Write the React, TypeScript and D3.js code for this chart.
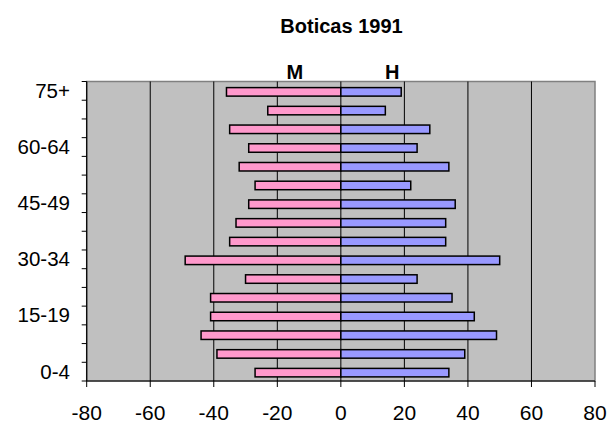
import React from 'react';
import * as d3 from 'd3';

const ageGroups = ['0-4', '5-9', '10-14', '15-19', '20-24', '25-29', '30-34', '35-39', '40-44', '45-49', '50-54', '55-59', '60-64', '65-69', '70-74', '75+'];
const mulheres = [27, 39, 44, 41, 41, 30, 49, 35, 33, 29, 27, 32, 29, 35, 23, 36];
const homens = [34, 39, 49, 42, 35, 24, 50, 33, 33, 36, 22, 34, 24, 28, 14, 19];
const shownLabels = ['0-4', '15-19', '30-34', '45-49', '60-64', '75+'];
const xTicks = [-80, -60, -40, -20, 0, 20, 40, 60, 80];

const W = 609;
const H = 429;
const margin = { top: 81.5, right: 14, bottom: 48, left: 86.7 };
const font = 'Liberation Sans, Arial, sans-serif';

export default function App() {
  const x = d3.scaleLinear().domain([-80, 80]).range([margin.left, W - margin.right]);
  const y = d3.scaleBand<string>()
    .domain([...ageGroups].reverse())
    .range([margin.top, H - margin.bottom]);
  const bw = y.bandwidth();
  const barH = 8.5;
  const top = margin.top;
  const bottom = H - margin.bottom;

  return (
    <div style={{ position: 'absolute', left: 0, top: 0 }}>
      <svg width={W} height={H} style={{ display: 'block', fontFamily: font }}>
        <rect x={0} y={0} width={W} height={H} fill="#fff" />
        <text x={341.5} y={33} textAnchor="middle" fontSize={20} fontWeight="bold">Boticas 1991</text>

        {/* plot area */}
        <rect x={x(-80)} y={top} width={x(80) - x(-80)} height={bottom - top} fill="#c0c0c0" stroke="#808080" strokeWidth={1.5} />
        {xTicks.filter(t => t !== -80 && t !== 80).map(t => (
          <line key={'g' + t} x1={x(t)} x2={x(t)} y1={top} y2={bottom} stroke="#000" strokeWidth={1} />
        ))}

        <text x={x(-14.5)} y={78.5} textAnchor="middle" fontSize={20} fontWeight="bold">M</text>
        <text x={x(16.2)} y={78.5} textAnchor="middle" fontSize={20} fontWeight="bold">H</text>

        {ageGroups.map((g, i) => {
          const cy = (y(g) as number) + bw / 2 + 1;
          return (
            <g key={g}>
              <rect x={x(-mulheres[i])} y={cy - barH / 2} width={x(0) - x(-mulheres[i])} height={barH}
                fill="#ff99cc" stroke="#000" strokeWidth={1.5} />
              <rect x={x(0)} y={cy - barH / 2} width={x(homens[i]) - x(0)} height={barH}
                fill="#9999ff" stroke="#000" strokeWidth={1.5} />
            </g>
          );
        })}

        {/* axes */}
        <line x1={x(-80)} x2={x(-80)} y1={top} y2={bottom} stroke="#000" strokeWidth={1.2} />
        <line x1={x(-80)} x2={x(80)} y1={bottom} y2={bottom} stroke="#000" strokeWidth={1.2} />
        {[...ageGroups.map(g => y(g) as number), bottom].map((v, i) => (
          <line key={'yt' + i} x1={x(-80) - 5} x2={x(-80)} y1={v} y2={v} stroke="#000" strokeWidth={1} />
        ))}
        {xTicks.map(t => (
          <g key={'xt' + t}>
            <line x1={x(t)} x2={x(t)} y1={bottom} y2={bottom + 6} stroke="#000" strokeWidth={1} />
            <text x={x(t)} y={420} textAnchor="middle" fontSize={21}>{t}</text>
          </g>
        ))}
        {shownLabels.map(g => (
          <text key={'yl' + g} x={70} y={(y(g) as number) + bw / 2 + 7} textAnchor="end" fontSize={20.5}>{g}</text>
        ))}
      </svg>
    </div>
  );
}
